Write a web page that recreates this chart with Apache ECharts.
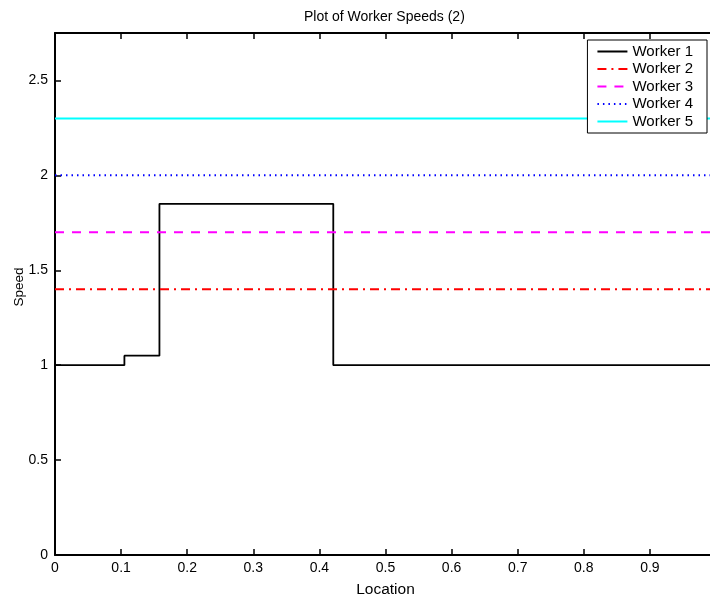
<!DOCTYPE html>
<html>
<head>
<meta charset="utf-8">
<script src="https://cdn.jsdelivr.net/npm/echarts@6/dist/echarts.min.js"></script>
<style>
  html, body { margin: 0; padding: 0; background: #fff; }
  #chart { width: 710px; height: 598px; }
</style>
</head>
<body>
<div id="chart"></div>
<script>
// worker 1 is a step profile: speed holds from each location until the next one
const worker1Locations = [0, 0.105, 0.158, 0.421, 1]
const worker1Speeds = [1, 1.05, 1.85, 1, 1]

// workers 2-5 run at a constant speed over the whole range
const constantWorkers = ['Worker 2', 'Worker 3', 'Worker 4', 'Worker 5']
const constantSpeeds = [1.4, 1.7, 2.0, 2.3]
const locationRange = [0, 1]

const xTicks = [0, 0.1, 0.2, 0.3, 0.4, 0.5, 0.6, 0.7, 0.8, 0.9]

const styles = [
  { color: '#ff0000', type: [9, 5, 2, 5] },
  { color: '#ff00ff', type: [9, 8] },
  { color: '#0000ff', type: [1.5, 4] },
  { color: '#00ffff', type: 'solid' }
]

const font = 'Liberation Sans, Arial, Helvetica, sans-serif'

const axisBase = {
  axisLine: { onZero: false, lineStyle: { color: '#000', width: 2 } },
  axisTick: { inside: true, length: 6, lineStyle: { color: '#000', width: 1.5 } },
  splitLine: { show: false }
}

const series = [{
  name: 'Worker 1',
  type: 'line',
  step: 'end',
  symbol: 'none',
  data: worker1Locations.map((x, i) => [x, worker1Speeds[i]]),
  lineStyle: { color: '#000', width: 1.8 },
  itemStyle: { color: '#000' }
}]

constantWorkers.forEach((name, i) => {
  series.push({
    name: name,
    type: 'line',
    symbol: 'none',
    data: locationRange.map(x => [x, constantSpeeds[i]]),
    lineStyle: { color: styles[i].color, width: 2, type: styles[i].type },
    itemStyle: { color: styles[i].color }
  })
})

const chart = echarts.init(document.getElementById('chart'))
chart.setOption({
  animation: false,
  backgroundColor: '#fff',
  title: {
    text: 'Plot of Worker Speeds (2)',
    left: 299,
    top: 5,
    textStyle: { fontFamily: font, fontSize: 14, fontWeight: 'normal', color: '#000' }
  },
  legend: {
    orient: 'vertical',
    right: 3,
    top: 40,
    backgroundColor: '#fff',
    borderColor: '#000',
    borderWidth: 1,
    padding: [4, 14, 4, 9],
    itemWidth: 30,
    itemHeight: 10,
    itemGap: 2.5,
    itemStyle: { opacity: 0 },
    textStyle: { fontFamily: font, fontSize: 15, color: '#000' },
    data: ['Worker 1'].concat(constantWorkers)
  },
  grid: { left: 55, right: -6, top: 33, bottom: 43, outerBoundsMode: 'none', containLabel: false },
  xAxis: [{
    ...axisBase,
    type: 'value',
    min: 0,
    max: 1,
    interval: 0.1,
    name: 'Location',
    nameLocation: 'middle',
    nameGap: 27,
    nameMoveOverlap: false,
    nameTextStyle: { fontFamily: font, fontSize: 15.5, color: '#000' },
    axisLabel: {
      fontFamily: font, fontSize: 14, color: '#000', margin: 6,
      showMaxLabel: false,
      formatter: v => xTicks.some(t => Math.abs(t - v) < 1e-9) ? String(+v.toFixed(1)) : ''
    }
  }, {
    ...axisBase,
    type: 'value',
    position: 'top',
    min: 0,
    max: 1,
    interval: 0.1,
    axisLabel: { show: false }
  }],
  yAxis: [{
    ...axisBase,
    type: 'value',
    min: 0,
    max: 2.75,
    interval: 0.5,
    name: 'Speed',
    nameLocation: 'middle',
    nameGap: 29,
    nameMoveOverlap: false,
    nameTextStyle: { fontFamily: font, fontSize: 13.5, color: '#000', padding: [0, 0, 0, 14] },
    axisLabel: { fontFamily: font, fontSize: 14, color: '#000', margin: 7, showMaxLabel: false }
  }, {
    ...axisBase,
    type: 'value',
    position: 'right',
    min: 0,
    max: 2.75,
    interval: 0.5,
    axisLabel: { show: false }
  }],
  series: series
})
</script>
</body>
</html>
